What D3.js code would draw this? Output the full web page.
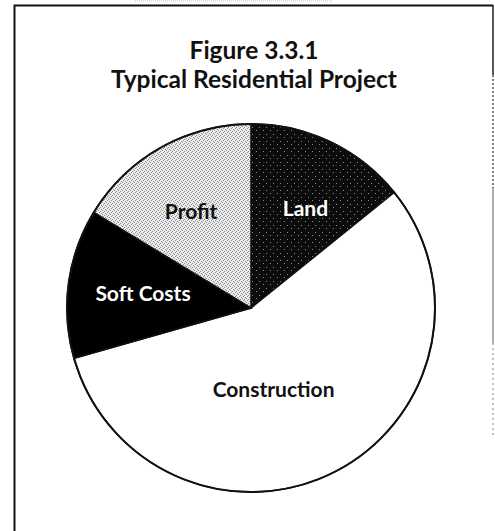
<!DOCTYPE html>
<html>
<head>
<meta charset="UTF-8" />
<title>Figure 3.3.1</title>
<script src="https://d3js.org/d3.v7.min.js"></script>
<style>
  body { margin: 0; background: #fff; }
  svg text { font-family: Lato, "Open Sans", sans-serif; font-weight: bold; }
</style>
</head>
<body>
<script>
// slice data, clockwise from 12 o'clock (percent of total project cost)
var categories = ["Land", "Construction", "Soft Costs", "Profit"];
var shares = [14.2, 56.4, 13.1, 16.3];
var titleLines = ["Figure 3.3.1", "Typical Residential Project"];

var W = 495, H = 531;
var cx = 251, cy = 308, R = 184;

var svg = d3.select("body").append("svg")
    .attr("width", W).attr("height", H);

// stipple fills like the scanned print
var defs = svg.append("defs");
var pLight = defs.append("pattern").attr("id", "stippleLight")
    .attr("width", 4).attr("height", 4).attr("patternUnits", "userSpaceOnUse");
pLight.append("rect").attr("width", 4).attr("height", 4).attr("fill", "#ececec");
[[0,0],[2,1],[1,3],[3,2]].forEach(function(p) {
  pLight.append("rect").attr("x", p[0]).attr("y", p[1]).attr("width", 1).attr("height", 1).attr("fill", "#8a8a8a");
});
var pDark = defs.append("pattern").attr("id", "stippleDark")
    .attr("width", 7).attr("height", 7).attr("patternUnits", "userSpaceOnUse");
pDark.append("rect").attr("width", 7).attr("height", 7).attr("fill", "#0c0c0c");
[[1,1],[5,4]].forEach(function(p) {
  pDark.append("rect").attr("x", p[0]).attr("y", p[1]).attr("width", 1).attr("height", 1).attr("fill", "#8a8a8a");
});

var fills = d3.scaleOrdinal()
    .domain(categories)
    .range(["url(#stippleDark)", "#ffffff", "#000000", "url(#stippleLight)"]);
var textColor = d3.scaleOrdinal()
    .domain(categories)
    .range(["#fff", "#111", "#fff", "#111"]);

// frame (scanned box: top, left, right edges)
svg.append("line").attr("x1", 135).attr("x2", 333).attr("y1", 1).attr("y2", 1)
    .attr("stroke", "#bbb").attr("stroke-dasharray", "1,1");
svg.append("path").attr("d", "M14.5,531 V5.5 H493")
    .attr("fill", "none").attr("stroke", "#111").attr("stroke-width", 2);
svg.append("line").attr("x1", 493).attr("x2", 493).attr("y1", 5).attr("y2", 75)
    .attr("stroke", "#222").attr("stroke-width", 1.5);
svg.append("line").attr("x1", 493).attr("x2", 493).attr("y1", 75).attr("y2", 188)
    .attr("stroke", "#555").attr("stroke-width", 1.5).attr("stroke-dasharray", "2,2");
svg.append("line").attr("x1", 493).attr("x2", 493).attr("y1", 188).attr("y2", 343)
    .attr("stroke", "#777").attr("stroke-width", 1.2);
svg.append("line").attr("x1", 493).attr("x2", 493).attr("y1", 343).attr("y2", 435)
    .attr("stroke", "#999").attr("stroke-width", 1.2).attr("stroke-dasharray", "2,3");

// title
svg.selectAll("text.title").data(titleLines).enter().append("text")
    .attr("class", "title")
    .attr("x", 254)
    .attr("y", function(d, i) { return 59 + i * 29; })
    .attr("text-anchor", "middle")
    .attr("font-size", 24.5)
    .attr("fill", "#111")
    .text(function(d) { return d; });

// pie
var data = categories.map(function(c, i) { return { name: c, value: shares[i] }; });
var pie = d3.pie().sort(null).value(function(d) { return d.value; });
var arc = d3.arc().innerRadius(0).outerRadius(R);
var labelArc = d3.arc().innerRadius(110).outerRadius(110);
// small hand nudges where the original label sits off the centroid
var labelNudge = { "Land": [7, 0], "Construction": [-28, -16], "Soft Costs": [1, 0], "Profit": [-6, 0] };

var g = svg.append("g").attr("transform", "translate(" + cx + "," + cy + ")");
var arcs = pie(data);

g.selectAll("path.slice").data(arcs).enter().append("path")
    .attr("class", "slice")
    .attr("d", arc)
    .attr("fill", function(d) { return fills(d.data.name); })
    .attr("stroke", "#111")
    .attr("stroke-width", 1.5);

g.append("circle").attr("r", R).attr("fill", "none")
    .attr("stroke", "#111").attr("stroke-width", 2);

g.selectAll("text.lbl").data(arcs).enter().append("text")
    .attr("class", "lbl")
    .attr("transform", function(d) {
      var c = labelArc.centroid(d), n = labelNudge[d.data.name];
      return "translate(" + (c[0] + n[0]) + "," + (c[1] + n[1]) + ")";
    })
    .attr("text-anchor", "middle")
    .attr("dy", "0.35em")
    .attr("font-size", 21)
    .attr("fill", function(d) { return textColor(d.data.name); })
    .text(function(d) { return d.data.name; });
</script>
</body>
</html>
